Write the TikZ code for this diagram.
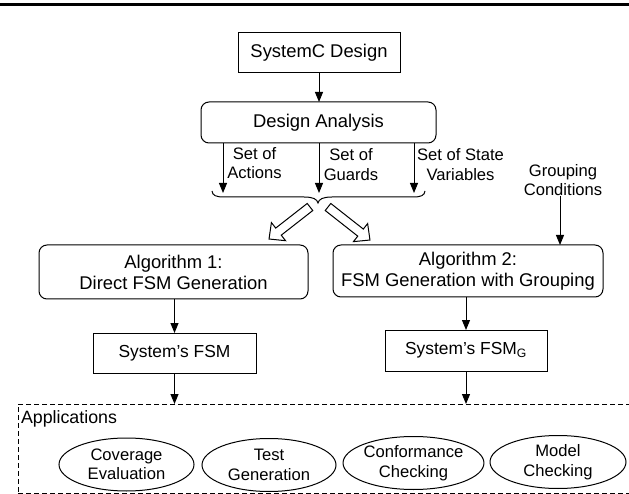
\documentclass[tikz,border=0pt]{standalone}
\usepackage{fontspec}
\setmainfont{Liberation Sans}
\usetikzlibrary{arrows.meta,shapes.geometric}
\newcommand{\fbig}{\fontsize{18.4}{21}\selectfont}
\newcommand{\fmid}{\fontsize{17.4}{20}\selectfont}
\newcommand{\fapp}{\fontsize{17.8}{20}\selectfont}
\newcommand{\fsml}{\fontsize{16.6}{19.5}\selectfont}
\begin{document}
\begin{tikzpicture}[x=1pt,y=-1pt,
  every node/.style={inner sep=0pt, outer sep=0pt},
  box/.style={draw, line width=1pt, align=center},
  rbox/.style={box, rounded corners=8pt},
  ell/.style={draw, ellipse, line width=1pt, align=center, minimum width=135pt, minimum height=53pt, font=\fsml},
  arr/.style={line width=1pt, -{Triangle[width=8pt,length=10pt]}},
  lbl/.style={align=center, font=\fsml},
  hollow/.style={draw, line width=1pt, fill=white, line join=miter},
  dashbox/.style={draw, line width=1pt, dash pattern=on 5pt off 3pt},
]
\useasboundingbox (0,0) rectangle (629,494);
\clip (0,0) rectangle (629,494);

% top rule
\draw[line width=3pt] (0,4.5) -- (629,4.5);

% boxes
\node[box, minimum width=162, minimum height=40, font=\fbig] (sysc) at (319,53) {SystemC Design};
\node[rbox, minimum width=235, minimum height=41, font=\fbig] (da) at (318.5,122.5) {Design Analysis};
\draw[arr] (sysc.south) -- (sysc.south |- da.north);

% three outputs
\coordinate (a1) at (223,193);
\coordinate (a2) at (319,193);
\coordinate (a3) at (414,193);
\draw[arr] (da.south -| a1) -- (a1);
\draw[arr] (da.south -| a2) -- (a2);
\draw[arr] (da.south -| a3) -- (a3);
\node[lbl] (lact) at (254.5,163) {Set of\\Actions};
\node[lbl] (lgrd) at (351,164.5) {Set of\\Guards};
\node[lbl] (lsv) at (460.5,164.5) {Set of State\\Variables};

% brace
\draw[line width=1pt] (212,191) .. controls (212.5,195.5) and (216,197) .. (224,197) -- (304,197)
  .. controls (313,197) and (317,199) .. (318,203)
  .. controls (319,199) and (323,197) .. (332,197) -- (413,197)
  .. controls (421,197) and (424.5,195.5) .. (425,191);

% hollow arrows
\begin{scope}[shift={(310,207)}, rotate=218]
  \draw[hollow] (0,-4.5) -- (40,-4.5) -- (40,-11.5) -- (52,0) -- (40,11.5) -- (40,4.5) -- (0,4.5) -- cycle;
\end{scope}
\begin{scope}[shift={(328,207)}, rotate=-38.2]
  \draw[hollow] (0,-4.5) -- (41.4,-4.5) -- (41.4,-11.5) -- (53.4,0) -- (41.4,11.5) -- (41.4,4.5) -- (0,4.5) -- cycle;
\end{scope}

% grouping conditions
\node[lbl] (lgc) at (563,180) {Grouping\\Conditions};
\coordinate (gx) at (560,0);

% algorithms
\node[rbox, minimum width=269, minimum height=54, font=\fbig] (alg1) at (173.5,272) {Algorithm 1:\\Direct FSM Generation};
\node[rbox, minimum width=270, minimum height=52, font=\fbig] (alg2) at (468,271) {Algorithm 2:\\FSM Generation with Grouping};
\draw[arr] (lgc.south -| gx) -- (alg2.north -| gx);

% FSMs
\node[box, minimum width=163, minimum height=40, font=\fmid] (fsm) at (174.5,353) {System’s FSM};
\node[box, minimum width=162, minimum height=41, font=\fmid] (fsmg) at (466,350.5) {System’s FSM\textsubscript{G}};
\draw[arr] (fsm.north |- alg1.south) -- (fsm.north);
\draw[arr] (fsmg.north |- alg2.south) -- (fsmg.north);

% applications
\node[dashbox, minimum width=650, minimum height=89, anchor=north west] (apps) at (18,404) {};
\draw[arr] (fsm.south) -- (fsm.south |- apps.north);
\draw[arr] (fsmg.south) -- (fsmg.south |- apps.north);
\node[font=\fapp, anchor=west] (applbl) at (21,419) {Applications};

\node[ell] (e1) at (126.5,464.5) {Coverage\\Evaluation};
\node[ell, minimum width=134] (e2) at (269,465) {Test\\Generation};
\node[ell, minimum width=137] (e3) at (413.5,463) {Conformance\\Checking};
\node[ell, minimum width=136] (e4) at (558,462) {Model\\Checking};
\end{tikzpicture}
\end{document}
